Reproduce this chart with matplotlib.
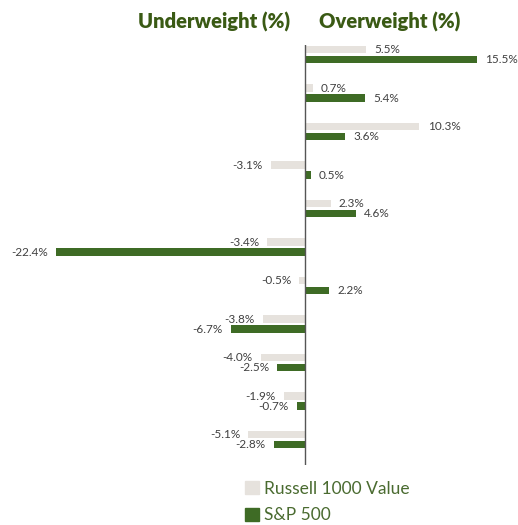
import matplotlib.pyplot as plt
import numpy as np
from matplotlib.patches import Patch

GRAY = "#e6e2dd"
GREEN = "#3e6b25"
HEAD = "#3a5a14"
INK = "#404040"

SERIES = ["Russell 1000 Value", "S&P 500"]
RUSSELL = [5.5, 0.7, 10.3, -3.1, 2.3, -3.4, -0.5, -3.8, -4.0, -1.9, -5.1]
SP500 = [15.5, 5.4, 3.6, 0.5, 4.6, -22.4, 2.2, -6.7, -2.5, -0.7, -2.8]

plt.rcParams["font.family"] = ["Lato", "DejaVu Sans"]

fig = plt.figure(figsize=(5.18, 5.25), dpi=100)
ax = fig.add_axes([0, 1 - 465 / 525, 1, 420 / 525])

y = np.arange(len(RUSSELL))
h = 0.19
off = 0.13
b1 = ax.barh(y - off, RUSSELL, height=h, color=GRAY, zorder=2)
b2 = ax.barh(y + off, SP500, height=h, color=GREEN, zorder=2)
for bars, vals in ((b1, RUSSELL), (b2, SP500)):
    ax.bar_label(bars, labels=[f"{v:.1f}%" for v in vals], padding=6,
                 fontsize=8.5, color=INK)

ax.axvline(0, color="#555555", lw=1.0, zorder=3)
ax.set_xlim(-305 / 11.1, (518 - 305) / 11.1)
ax.set_ylim(10.66, -0.25)
ax.axis("off")

fig.text(214 / 518, 1 - 22 / 525, "Underweight (%)", ha="center", va="center",
         fontsize=14.5, fontweight="heavy", color=HEAD)
fig.text(390 / 518, 1 - 22 / 525, "Overweight (%)", ha="center", va="center",
         fontsize=14.5, fontweight="heavy", color=HEAD)

handles = [Patch(color=GRAY, label=SERIES[0]), Patch(color=GREEN, label=SERIES[1])]
leg = fig.legend(handles=handles, loc="center left", bbox_to_anchor=(238 / 518, 1 - 502 / 525),
                 frameon=False, fontsize=12.5, handlelength=0.8, handleheight=0.8,
                 handletextpad=0.3, labelspacing=0.6, borderaxespad=0)
for t in leg.get_texts():
    t.set_color("#4a6b30")

fig.savefig("out.png", dpi=100)
